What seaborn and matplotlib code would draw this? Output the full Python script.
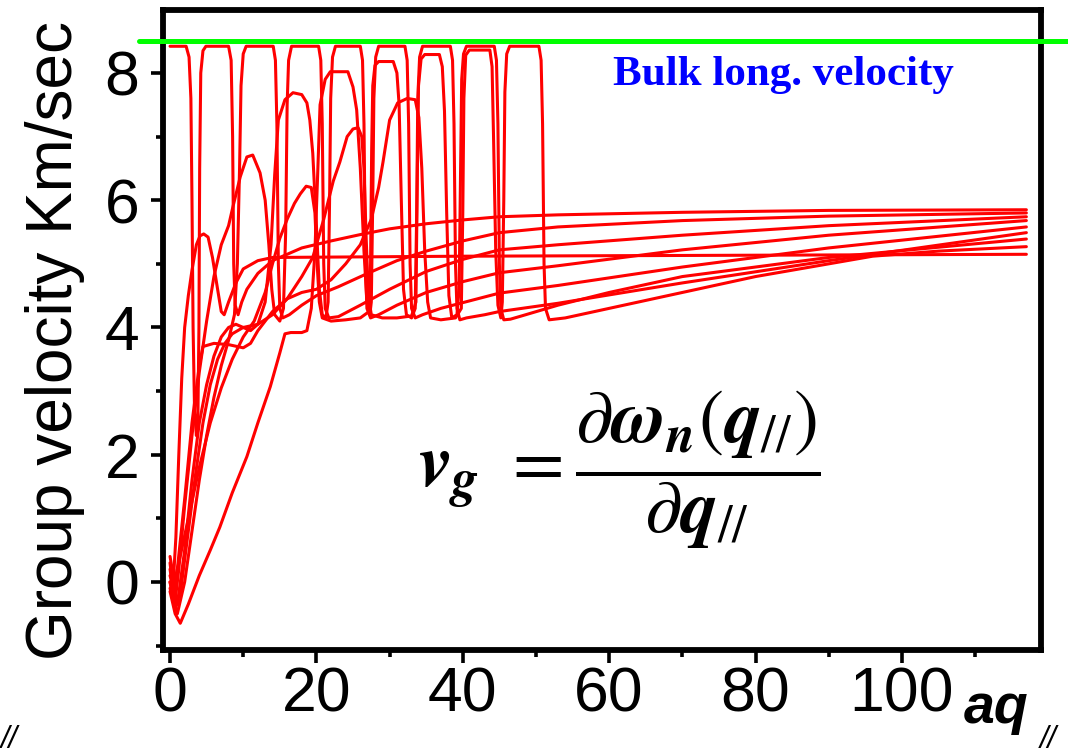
import pandas as pd
import matplotlib
matplotlib.use("Agg")
import matplotlib.pyplot as plt
import seaborn as sns

# group velocity branches, (aq, v_g) pairs
m1 = [(0, 8.42), (2.2, 8.42), (2.6, 8.25), (2.85, 7.6), (3.0, 6.0), (3.15, 4.0), (3.35, 2.7),
      (3.6, 2.3), (3.8, 2.5), (3.95, 4.0), (4.05, 6.5), (4.2, 8.0), (4.5, 8.35), (4.9, 8.42),
      (8.0, 8.42), (8.35, 8.2), (8.55, 7.0), (8.7, 5.0), (8.9, 4.35), (9.3, 4.2), (9.8, 4.4),
      (10.5, 4.6), (12, 4.85), (14, 5.05), (18, 5.25), (22, 5.36), (26, 5.46), (30, 5.55),
      (35, 5.63), (40, 5.69), (45, 5.74), (53, 5.77), (70, 5.81), (90, 5.84), (117, 5.85)]

m2 = [(0, 0.3), (0.4, -0.1), (0.8, 0.7), (1.2, 2.0), (1.6, 3.2), (2.0, 4.0), (2.5, 4.5),
      (3.0, 4.9), (3.6, 5.3), (4.1, 5.44), (4.6, 5.47), (5.2, 5.42), (5.8, 5.1), (6.5, 4.6),
      (7.0, 4.25), (7.4, 4.2), (8.0, 4.4), (9.0, 4.7), (10, 4.92), (12, 5.05), (14, 5.1),
      (40, 5.12), (117, 5.15)]

m3 = [(0, -0.1), (1.0, -0.5), (2.0, 0.0), (3.0, 0.8), (4.0, 1.6), (5.0, 2.3), (6.0, 2.9),
      (7.0, 3.4), (8.0, 3.8), (8.8, 4.2), (9.2, 5.0), (9.5, 6.5), (9.7, 7.8), (10.0, 8.3),
      (10.4, 8.42), (14.1, 8.42), (14.4, 8.2), (14.6, 7.2), (14.8, 5.0), (15.0, 4.3),
      (15.4, 4.15), (16.3, 4.2), (18, 4.35), (20, 4.5), (23, 4.64), (27, 4.85), (31, 5.05),
      (35, 5.2), (40, 5.36), (45, 5.49), (53, 5.58), (70, 5.68), (90, 5.75), (117, 5.80)]

m4 = [(0, 0.0), (0.6, -0.4), (1.2, 0.2), (2.0, 1.2), (3.0, 2.3), (4.0, 3.3), (5.0, 4.1),
      (6.0, 4.8), (7.0, 5.3), (8.0, 5.6), (8.6, 5.9), (9.6, 6.37), (10.5, 6.68), (11.3, 6.71),
      (12.3, 6.43), (13.0, 6.0), (13.5, 5.3), (13.9, 4.6), (14.3, 4.2), (15.0, 4.1),
      (15.5, 4.3), (15.8, 5.5), (16.0, 7.5), (16.2, 8.2), (16.6, 8.42), (20.3, 8.42),
      (20.6, 8.2), (20.8, 7.2), (21.0, 5.0), (21.2, 4.3), (21.7, 4.15), (23, 4.17),
      (26, 4.35), (30, 4.6), (35, 4.88), (40, 5.07), (45, 5.22), (53, 5.3), (70, 5.45),
      (90, 5.6), (117, 5.74)]

m5 = [(0, 0.1), (1, -0.35), (2, 0.5), (3, 1.6), (4, 2.5), (5, 3.1), (6, 3.55), (7, 3.85),
      (8, 4.0), (9, 4.05), (10, 4.0), (11, 3.95), (12, 4.05), (13, 4.4), (13.8, 5.3),
      (14.3, 6.4), (14.8, 7.26), (15.7, 7.58), (16.8, 7.69), (18, 7.66), (18.7, 7.53),
      (19.1, 7.26), (19.5, 6.74), (20.0, 5.6), (20.4, 4.6), (20.8, 4.2), (21.3, 4.15),
      (21.6, 4.4), (21.8, 6.0), (21.95, 7.6), (22.2, 8.25), (22.6, 8.42), (26.0, 8.42),
      (26.3, 8.2), (26.5, 7.2), (26.7, 5.0), (26.9, 4.3), (27.4, 4.15), (28.5, 4.2),
      (31, 4.35), (35, 4.55), (40, 4.72), (45, 4.86), (53, 4.97), (70, 5.22), (90, 5.45),
      (117, 5.68)]

m6 = [(0, -0.15), (0.7, -0.5), (1.4, -0.65), (2.5, -0.35), (4.0, 0.1), (5.5, 0.5),
      (6.8, 0.86), (8.5, 1.4), (10.5, 1.97), (12, 2.5), (13.7, 3.07), (15, 3.6), (15.7, 3.9),
      (16.5, 3.92), (18.0, 3.92), (18.7, 3.95), (19.3, 4.3), (19.8, 5.2), (20.2, 6.5),
      (20.5, 7.5), (21.2, 7.9), (21.9, 8.02), (24.3, 8.02), (25.0, 7.78), (25.5, 7.42),
      (26.0, 6.5), (26.5, 5.2), (26.9, 4.4), (27.3, 4.2), (27.5, 4.4), (27.7, 6.0),
      (27.85, 7.6), (28.1, 8.25), (28.5, 8.42), (32.1, 8.42), (32.4, 8.2), (32.6, 7.2),
      (32.8, 5.0), (33.0, 4.3), (33.5, 4.15), (34.5, 4.2), (37, 4.3), (41, 4.42), (45, 4.54),
      (53, 4.66), (70, 4.95), (90, 5.25), (117, 5.58)]

m7 = [(0, 0.4), (0.6, 0.0), (1.2, 0.3), (2.5, 1.0), (4, 1.8), (5.5, 2.5), (7, 3.05),
      (8.5, 3.5), (10, 3.85), (11.5, 4.1), (13, 4.55), (14, 5.0), (15, 5.4), (16, 5.7),
      (17, 5.95), (17.8, 6.1), (18.6, 6.22), (19.3, 6.2), (19.8, 5.8), (20.1, 5.0),
      (20.4, 4.4), (20.8, 4.15), (22, 4.1), (24, 4.12), (26, 4.15), (27.2, 4.25), (27.4, 5.0),
      (27.55, 6.8), (27.7, 7.8), (28.0, 8.12), (28.5, 8.18), (30.5, 8.18), (31.0, 8.0),
      (31.3, 7.5), (31.6, 6.0), (31.9, 4.6), (32.3, 4.2), (33.0, 4.15), (33.5, 4.3),
      (33.7, 5.8), (33.85, 7.6), (34.1, 8.25), (34.5, 8.42), (38.3, 8.42), (38.6, 8.2),
      (38.8, 7.2), (39.0, 5.0), (39.2, 4.3), (39.6, 4.12), (40.5, 4.15), (43, 4.2),
      (45, 4.25), (53, 4.38), (70, 4.7), (90, 5.05), (117, 5.49)]

m8 = [(0, 0.0), (0.8, -0.4), (1.5, -0.1), (2.5, 0.8), (3.5, 1.7), (4.5, 2.5), (5.5, 3.1),
      (6.5, 3.5), (7.5, 3.75), (8.5, 3.9), (10, 4.0), (12, 4.05), (14, 4.2), (16, 4.45),
      (18, 4.8), (19.5, 5.1), (21, 5.7), (22.3, 6.3), (23.2, 6.6), (24.2, 7.0), (25.0, 7.12),
      (25.7, 7.14), (26.2, 7.0), (26.5, 6.5), (26.8, 5.4), (27.1, 4.5), (27.5, 4.2),
      (29, 4.15), (31, 4.15), (33, 4.18), (33.6, 4.4), (33.8, 6.5), (33.95, 7.8), (34.3, 8.22),
      (34.8, 8.29), (36.8, 8.29), (37.2, 8.1), (37.5, 7.4), (37.8, 5.8), (38.1, 4.5),
      (38.5, 4.15), (39.2, 4.2), (39.5, 4.6), (39.7, 6.5), (39.85, 7.9), (40.1, 8.3),
      (40.5, 8.42), (44.3, 8.42), (44.6, 8.2), (44.8, 7.2), (45.0, 5.0), (45.2, 4.3),
      (45.6, 4.12), (46.5, 4.13), (48, 4.18), (53, 4.35), (60, 4.55), (70, 4.8), (90, 5.1),
      (117, 5.39)]

m9 = [(0, 0.2), (0.5, -0.2), (1, 0.2), (2, 1.3), (3, 2.5), (4, 3.4), (4.5, 3.7), (6, 3.75),
      (8, 3.73), (10, 3.68), (11, 3.75), (12, 3.95), (14, 4.25), (16, 4.45), (18, 4.55),
      (20, 4.6), (22, 4.75), (24, 5.0), (26, 5.3), (27.5, 5.7), (28.5, 6.2), (29.1, 6.6),
      (30, 7.26), (31.1, 7.53), (32.4, 7.6), (33.5, 7.58), (34, 7.3), (34.4, 6.5), (34.8, 5.2),
      (35.2, 4.4), (35.6, 4.15), (37, 4.12), (39, 4.15), (39.8, 4.3), (40.0, 5.8),
      (40.15, 7.6), (40.4, 8.28), (40.9, 8.36), (43.7, 8.36), (44.0, 8.1), (44.2, 7.0),
      (44.5, 5.2), (44.8, 4.35), (45.2, 4.15), (45.4, 4.4), (45.6, 6.0), (45.75, 7.7),
      (46.0, 8.3), (46.4, 8.42), (50.4, 8.42), (50.7, 8.2), (50.9, 7.2), (51.1, 5.0),
      (51.3, 4.3), (51.8, 4.12), (54, 4.15), (60, 4.3), (70, 4.55), (80, 4.8), (90, 5.0),
      (96, 5.12), (105, 5.2), (117, 5.27)]

branches = [m1, m2, m3, m4, m5, m6, m7, m8, m9]
bulk_long = 8.5

rows = []
for n, br in enumerate(branches):
    for i, (q, v) in enumerate(br):
        rows.append({"mode": n, "step": i, "q": q, "vg": v})
df = pd.DataFrame(rows)

sns.set_style("ticks", {"axes.edgecolor": "black", "text.color": "black",
                        "xtick.color": "black", "ytick.color": "black"})
plt.rcParams["font.family"] = ["Liberation Sans", "DejaVu Sans"]
plt.rcParams["mathtext.fontset"] = "custom"
plt.rcParams["mathtext.rm"] = "STIXGeneral"
plt.rcParams["mathtext.it"] = "STIXGeneral:italic:bold"
plt.rcParams["mathtext.bf"] = "STIXGeneral:bold"

fig = plt.figure(figsize=(10.68, 7.55), dpi=100)
ax = fig.add_axes([163 / 1068, 105 / 755, 878 / 1068, 640 / 755])

sns.lineplot(data=df, x="q", y="vg", units="mode", estimator=None, sort=False,
             color="#ff0000", lw=2.2, legend=False, ax=ax)
ax.axhline(bulk_long, xmin=-0.027, xmax=1.04, color="#00ff00", lw=3.6, clip_on=False, zorder=3)

ax.set_xlim(-0.96, 119)
ax.set_ylim(-1.07, 8.99)
ax.set_xticks([0, 20, 40, 60, 80, 100])
ax.set_xticks(range(10, 120, 20), minor=True)
ax.set_yticks([0, 2, 4, 6, 8])
ax.set_yticks([-1, 1, 3, 5, 7], minor=True)
ax.set_xlabel("")
ax.set_ylabel("")
for s in ax.spines.values():
    s.set_linewidth(4.2)
    s.set_color("black")
    s.set_visible(True)
ax.tick_params(which="major", direction="out", length=9, width=2.6, labelsize=45, colors="black")
ax.tick_params(which="minor", direction="out", length=5, width=2.6, colors="black")
ax.tick_params(axis="y", pad=8)
ax.tick_params(axis="x", pad=2)

fig.text(55 / 1068, 1 - 340 / 755, "Group velocity Km/sec", rotation=90, fontsize=46,
         ha="center", va="center", color="black")
fig.text(613 / 1068, 1 - 85 / 755, "Bulk long. velocity", color="#0000ff", fontsize=31,
         family=["Liberation Serif"], weight="bold", ha="left", va="baseline")
fig.text(418 / 1068, 1 - 470 / 755,
         r"$v_g\ =\dfrac{\partial\omega_n(q_{//})}{\partial q_{//}}$",
         fontsize=54, ha="left", va="center", color="black")
fig.text(964 / 1068, 1 - 723 / 755, "aq", fontsize=40, weight="bold", style="italic",
         ha="left", va="baseline", color="black")
fig.text(1040 / 1068, 1 - 748 / 755, "//", fontsize=22, style="italic", ha="left",
         va="baseline", color="black")
fig.text(1 / 1068, 1 - 748 / 755, "//", fontsize=22, style="italic", ha="left",
         va="baseline", color="black")

fig.savefig("out.png", dpi=100)
